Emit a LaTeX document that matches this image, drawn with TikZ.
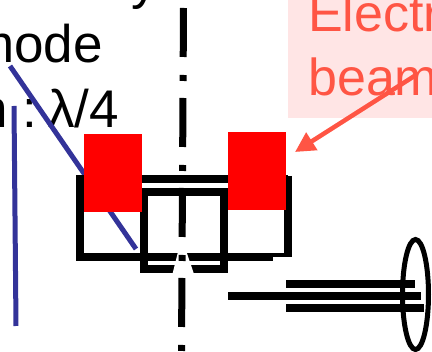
\documentclass[tikz,border=0pt]{standalone}
\usepackage{fontspec}
\setmainfont{Liberation Sans}
\usetikzlibrary{arrows.meta}
\definecolor{beamred}{HTML}{FF5544}
\definecolor{beampink}{HTML}{FFE5E5}
\definecolor{probeblue}{HTML}{333399}

\begin{document}
\begin{tikzpicture}[x=1pt,y=-1pt,
    label/.style={anchor=base east,inner sep=0pt,font=\fontsize{53}{53}\selectfont},
    beamlabel/.style={anchor=base west,inner sep=0pt,text=beamred,font=\fontsize{52}{52}\selectfont},
    wall/.style={line width=8pt},
    rod/.style={line width=8pt},
    probe/.style={probeblue,line width=5pt}]
  \useasboundingbox (0,0) rectangle (432,352);
  \clip (0,0) rectangle (432,352);
  % labels cut off by the frame
  \node[label] (top) at (158,-1) {y};
  \node[label] (mode) at (103,63) {mode};
  \node[label] (wave) at (119,128) {n : \hspace{-9pt}λ/4};
  % electron beam label
  \fill[beampink] (288,0) rectangle (432,118.5);
  \node[beamlabel] (elec) at (308,32) {Electron};
  \node[beamlabel] (beam) at (308,96) {beam};
  % coupling lines
  \draw[probe] (10,66) -- (136,249);
  \draw[probe] (14,106) -- (16,326);
  % outer cavity
  \draw[wall] (288,179.5) -- (80,179.5) -- (80,257) -- (273,257);
  \draw[wall] (288,176) -- (288,257);
  \draw[line width=4pt] (273,255) -- (292,255);
  % inner cavity
  \draw[wall] (144,269) -- (144,192) -- (223.5,192) -- (223.5,269);
  \draw[wall] (140,269) -- (227.5,269);
  \fill[white] (178,252) -- (186.5,252) -- (194,274) -- (172.5,274) -- cycle;
  % axis
  \draw[line width=7pt,dash pattern=on 49pt off 18pt on 6pt off 17pt] (183.5,8) -- (181.5,352);
  % cathode blocks
  \fill[red] (84,134) rectangle (142,212);
  \fill[red] (228,132) rectangle (286,210);
  % arrow to the block
  \coordinate (tail) at (416,75);
  \coordinate (tip) at (295,152);
  \draw[-{Triangle[length=20pt,width=20pt]},beamred,line width=4.5pt] (tail) -- (tip);
  % tube and ring
  \draw[rod] (286,284) -- (415,284);
  \draw[rod] (228,296) -- (421,296);
  \draw[rod] (286,308.5) -- (423.5,308.5);
  \draw[line width=5pt] (415.5,294.5) ellipse (13pt and 55pt);
\end{tikzpicture}
\end{document}
